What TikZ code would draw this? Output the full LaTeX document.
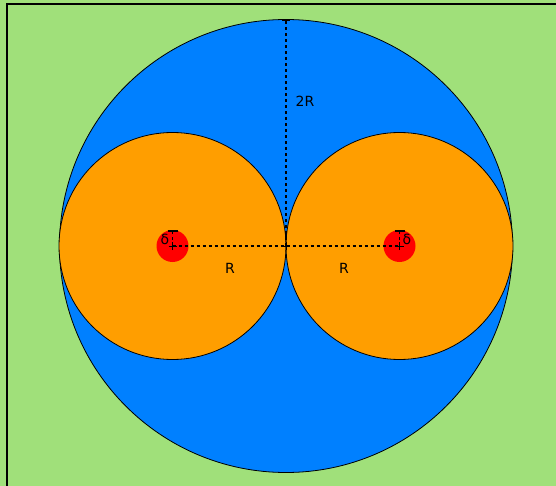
\documentclass[tikz,border=0pt]{standalone}
\usepackage{fontspec}
\setmainfont{DejaVu Sans}
\definecolor{bggreen}{RGB}{160,224,122}
\definecolor{bigblue}{RGB}{0,128,255}
\definecolor{orng}{RGB}{255,158,0}
\definecolor{rdot}{RGB}{255,0,0}
\begin{document}
\begin{tikzpicture}[x=1pt,y=-1pt,
  dotline/.style={line width=1.5pt,dash pattern=on 3pt off 3pt},
  lbl/.style={font=\fontsize{14}{16}\selectfont,inner sep=0pt},
  plusmark/.style={line width=1pt}]
\useasboundingbox (0,0) rectangle (556,486);
\fill[bggreen] (0,0) rectangle (556,486);
\draw[line width=1.5pt] (7,487) -- (7,4) -- (557,4);
% circles
\coordinate (c) at (286,246);
\coordinate (l) at (172.5,246);
\coordinate (r) at (399.5,246);
\coordinate (top) at (286,20);
\coordinate (ltop) at (172.5,231);
\coordinate (rtop) at (399.5,231);
\fill[bigblue] (c) circle (226.5);
\draw[line width=0.8pt] (c) circle (226.5);
\filldraw[fill=orng,draw=black,line width=0.8pt] (l) circle (113.5);
\filldraw[fill=orng,draw=black,line width=0.8pt] (r) circle (113.5);
\fill[rdot] (l) circle (16);
\fill[rdot] (r) circle (16);
% dotted lines
\draw[dotline] (l) -- (r);
\draw[dotline] (c) -- (top);
\draw[dotline] (l) -- (ltop);
\draw[dotline] (r) -- (rtop);
% caps
\draw[line width=1.2pt] ([xshift=-4]top) -- ([xshift=4]top);
\draw[line width=2pt] ([xshift=-5]ltop) -- ([xshift=5]ltop);
\draw[line width=2pt] ([xshift=-5]rtop) -- ([xshift=5]rtop);
% plus marks
\foreach \p in {l,r,c}{
  \draw[plusmark] ([xshift=-4]\p) -- ([xshift=4]\p) ([yshift=-4]\p) -- ([yshift=4]\p);
}
% labels
\node[lbl] (twoR) at (305,101) {2R};
\node[lbl] (R1) at (230,268) {R};
\node[lbl] (R2) at (344,268) {R};
\node[lbl] (d1) at (165,239) {δ};
\node[lbl] (d2) at (407,239) {δ};
\end{tikzpicture}
\end{document}
